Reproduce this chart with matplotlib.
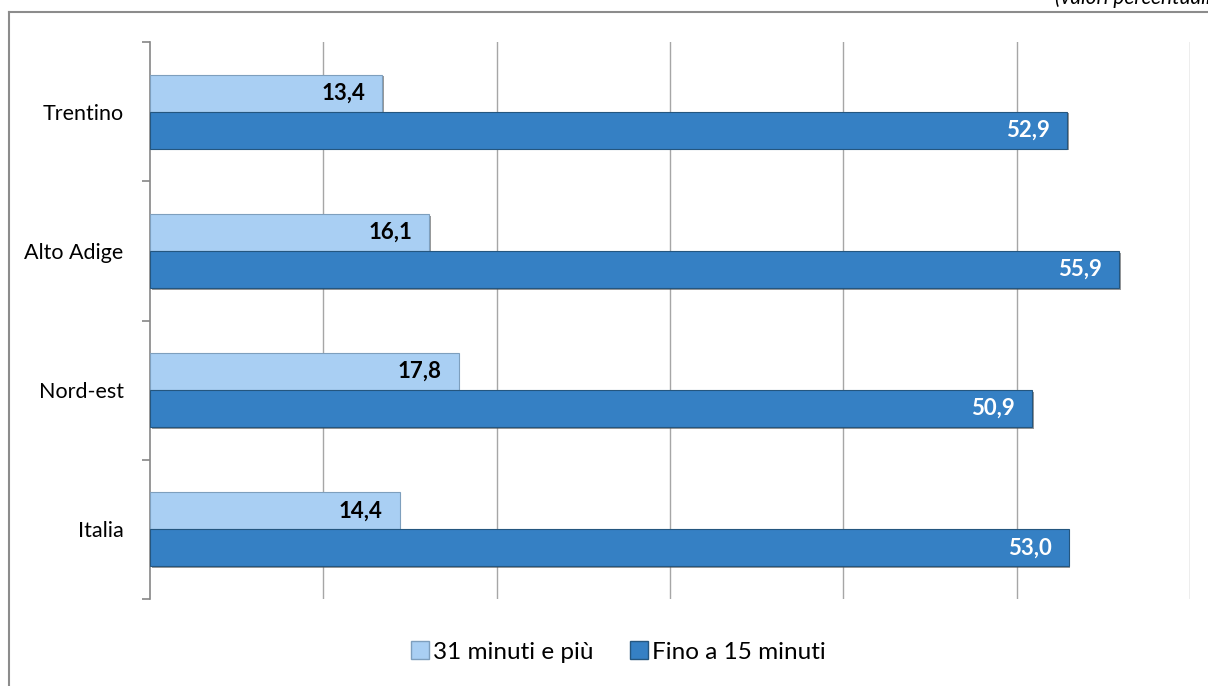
import numpy as np
import matplotlib
matplotlib.use('Agg')
import matplotlib.pyplot as plt
from matplotlib import patheffects as pe
from matplotlib.lines import Line2D
from matplotlib.patches import Patch

plt.rcParams['font.family'] = ['Lato', 'DejaVu Sans']

# dati: quota di occupati per tempo di spostamento
territori = ['Trentino', 'Alto Adige', 'Nord-est', 'Italia']
oltre_31 = [13.4, 16.1, 17.8, 14.4]
fino_15 = [52.9, 55.9, 50.9, 53.0]
serie = ['31 minuti e più', 'Fino a 15 minuti']

col_chiaro = '#A9CFF3'
col_scuro = '#3580C4'

fig = plt.figure(figsize=(12.08, 6.86), dpi=100)
ax = fig.add_axes([150 / 1208, 1 - 599 / 686, 1040 / 1208, 557 / 686])

y = np.arange(len(territori))
h = 0.266
ombra = [pe.SimplePatchShadow(offset=(1.2, -1.2), shadow_rgbFace='#555555', alpha=0.6), pe.Normal()]

b1 = ax.barh(y - h / 2, oltre_31, height=h, color=col_chiaro, edgecolor='#7e9fbd', linewidth=0.8, zorder=3)
b2 = ax.barh(y + h / 2, fino_15, height=h, color=col_scuro, edgecolor='#24567f', linewidth=0.8, zorder=3)
for b in list(b1) + list(b2):
    b.set_path_effects(ombra)

# etichette dei valori dentro le barre
for bars, vals, c in [(b1, oltre_31, 'black'), (b2, fino_15, 'white')]:
    for bar, v in zip(bars, vals):
        ax.annotate(f'{v:.1f}'.replace('.', ','),
                    (v, bar.get_y() + bar.get_height() / 2),
                    xytext=(-17, 0), textcoords='offset pixels',
                    ha='right', va='center', fontsize=16, fontweight='bold', color=c, zorder=4)

ax.set_xlim(0, 60)
ax.set_ylim(len(territori) - 0.5, -0.5)
ax.set_xticks(np.arange(10, 61, 10))
ax.xaxis.grid(True, color='#A6A6A6', linewidth=1, zorder=0)
ax.tick_params(axis='x', length=0, labelbottom=False)

ax.set_yticks(y)
ax.set_yticklabels(territori, fontsize=15.5)
ax.set_yticks(np.arange(-0.5, len(territori)), minor=True)
ax.tick_params(axis='y', which='major', length=0, pad=19)
ax.tick_params(axis='y', which='minor', length=6, width=1.2, color='#868686')

for s in ['top', 'right', 'bottom']:
    ax.spines[s].set_visible(False)
ax.spines['left'].set_color('#868686')
ax.spines['left'].set_linewidth(1.2)

# legenda in basso
maniglie = [Patch(facecolor=col_chiaro, edgecolor='#7e9fbd'),
            Patch(facecolor=col_scuro, edgecolor='#24567f')]
fig.legend(maniglie, serie, loc='center', bbox_to_anchor=(618 / 1208, 1 - 652 / 686),
           ncol=2, frameon=False, fontsize=17.5, handlelength=0.75, handleheight=0.75,
           handletextpad=0.16, columnspacing=1.5)

# cornice del grafico
x0, y0 = 9 / 1208, 1 - 12 / 686
fig.add_artist(Line2D([x0, x0], [0, y0], color='#8c8c8c', linewidth=1.5))
fig.add_artist(Line2D([x0, 1], [y0, y0], color='#8c8c8c', linewidth=1.5))

fig.text(1055 / 1208, 1 - 4 / 686, '(valori percentuali)', fontsize=15, style='italic',
         ha='left', va='baseline')

fig.savefig('out.png', dpi=100)
